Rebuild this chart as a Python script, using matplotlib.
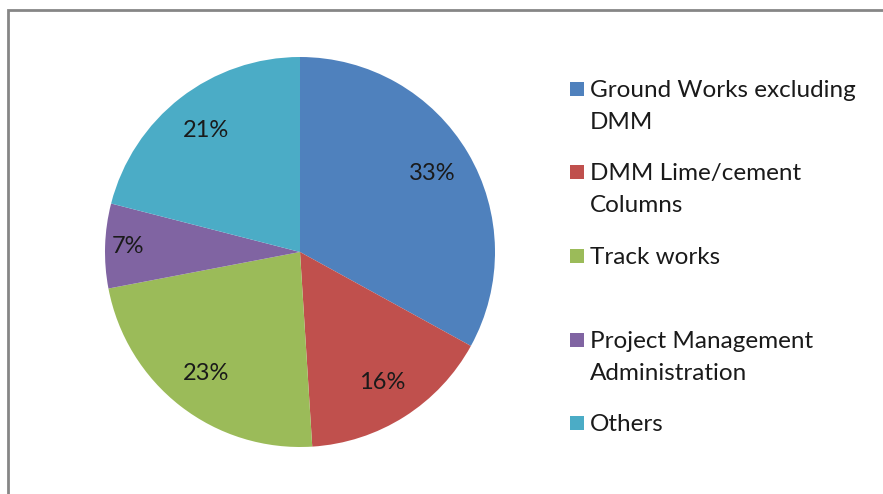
import numpy as np
import matplotlib.pyplot as plt
from matplotlib.patches import Rectangle

labels = ['Ground Works excluding\nDMM', 'DMM Lime/cement\nColumns', 'Track works',
          'Project Management\nAdministration', 'Others']
shares = [33, 16, 23, 7, 21]
colors = ['#4F81BD', '#C0504D', '#9BBB59', '#8064A2', '#4BACC6']

W, H = 883, 494
plt.rcParams['font.family'] = ['Lato', 'DejaVu Sans']

fig = plt.figure(figsize=(W / 100, H / 100), dpi=100)
fig.patch.set_facecolor('white')

# chart frame (runs off the right and bottom edges)
fig.add_artist(Rectangle((8 / W, -0.1), 1.2, 1.1 - 10 / H, transform=fig.transFigure,
                         fill=False, edgecolor='#868686', linewidth=2))

cx, cy, r = 300, 252, 195
ax = fig.add_axes([(cx - r) / W, (H - cy - r) / H, 2 * r / W, 2 * r / H])
wedges, _, autotexts = ax.pie(shares, colors=colors, startangle=90, counterclock=False,
                              autopct='%d%%', pctdistance=0.79,
                              wedgeprops={'linewidth': 0},
                              textprops={'fontsize': 17, 'color': '#1a1a1a'})
ax.set_xlim(-1, 1)
ax.set_ylim(-1, 1)
ax.set_aspect('equal')

# small slice label sits farther out
w = wedges[3]
mid = np.deg2rad((w.theta1 + w.theta2) / 2)
autotexts[3].set_position((0.88 * np.cos(mid), 0.88 * np.sin(mid)))

# legend
leg_y = [89, 172, 256, 340, 423]
for lab, col, y in zip(labels, colors, leg_y):
    fig.add_artist(Rectangle((570 / W, 1 - (y + 7) / H), 14 / W, 14 / H,
                             transform=fig.transFigure, facecolor=col, edgecolor='none'))
    fig.text(590 / W, 1 - (y - 9) / H, lab, fontsize=17.5, color='#1a1a1a',
             va='top', ha='left', linespacing=1.62)

fig.savefig('out.png', dpi=100)
